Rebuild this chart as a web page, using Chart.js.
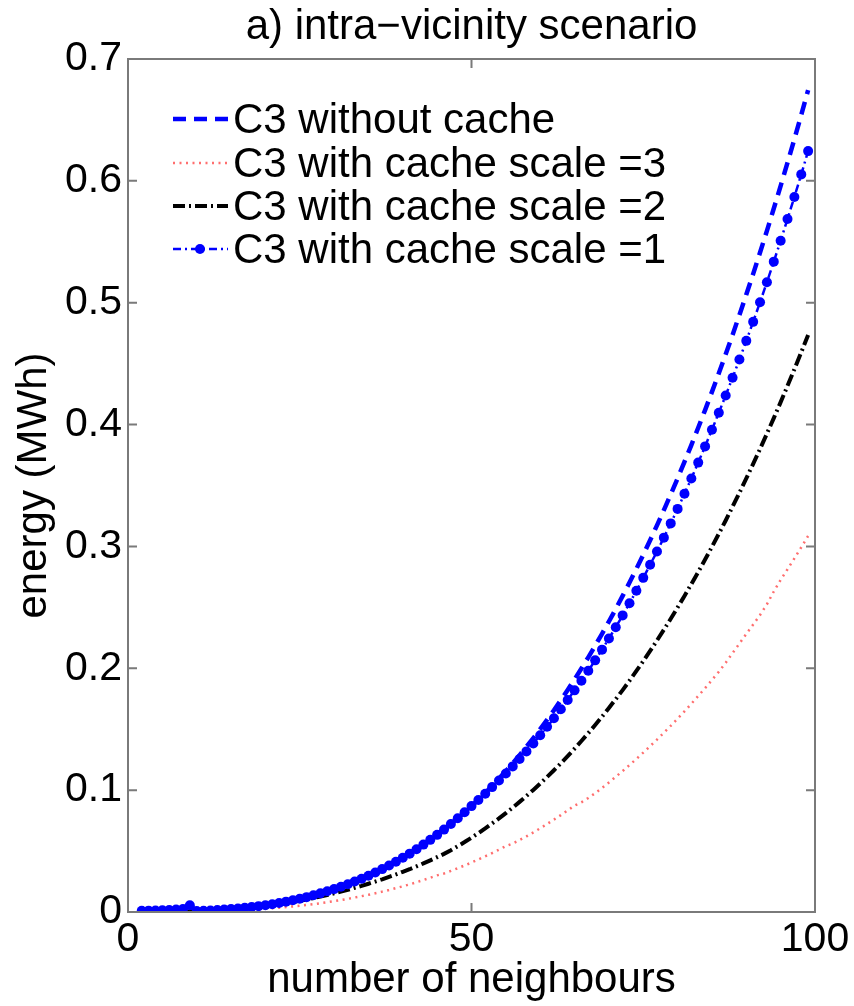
<!DOCTYPE html>
<html>
<head>
<meta charset="utf-8">
<script src="https://cdn.jsdelivr.net/npm/chart.js@4/dist/chart.umd.min.js"></script>
<style>
  body { margin: 0; background: #fff; }
  #wrap { width: 854px; height: 1006px; }
</style>
</head>
<body>
<div id="wrap"><canvas id="myChart" width="854" height="1006"></canvas></div>
<script>
var FONT = '"Liberation Sans", Arial, Helvetica, sans-serif';

var neighbours = [2,3,4,5,6,7,8,9,10,11,12,13,14,15,16,17,18,19,
	20,21,22,23,24,25,26,27,28,29,30,31,32,33,34,35,36,37,38,39,
	40,41,42,43,44,45,46,47,48,49,50,51,52,53,54,55,56,57,58,59,
	60,61,62,63,64,65,66,67,68,69,70,71,72,73,74,75,76,77,78,79,
	80,81,82,83,84,85,86,87,88,89,90,91,92,93,94,95,96,97,98,99];

var withoutCache = [0.0010,0.0011,0.0013,0.0015,0.0017,0.0020,0.0025,0.0055,0.0008,0.0010,0.0013,0.0016,0.0020,0.0024,0.0029,0.0034,0.0041,0.0048,
	0.0056,0.0064,0.0074,0.0085,0.0096,0.0109,0.0122,0.0137,0.0153,0.0170,
	0.0188,0.0207,0.0228,0.0250,0.0273,0.0298,0.0324,0.0352,0.0381,0.0412,
	0.0445,0.0479,0.0515,0.0553,0.0592,0.0633,0.0676,0.0722,0.0769,0.0818,
	0.0869,0.0922,0.0977,0.1035,0.1094,0.1156,0.1221,0.1287,0.1356,0.1427,
	0.1501,0.1578,0.1656,0.1738,0.1822,0.1909,0.1998,0.2090,0.2185,0.2283,
	0.2384,0.2487,0.2594,0.2704,0.2816,0.2932,0.3051,0.3173,0.3298,0.3427,
	0.3558,0.3694,0.3832,0.3974,0.4119,0.4268,0.4421,0.4577,0.4736,0.4900,
	0.5067,0.5237,0.5412,0.5590,0.5773,0.5959,0.6149,0.6343,0.6541,0.6744];

var cacheScale3 = [0.0000,0.0000,0.0000,0.0000,0.0001,0.0001,0.0002,0.0002,0.0003,0.0004,0.0006,0.0007,0.0009,0.0011,0.0014,0.0016,0.0019,0.0023,
	0.0026,0.0031,0.0035,0.0040,0.0046,0.0052,0.0058,0.0065,0.0072,0.0080,
	0.0089,0.0098,0.0108,0.0119,0.0130,0.0141,0.0154,0.0167,0.0181,0.0196,
	0.0211,0.0227,0.0244,0.0262,0.0281,0.0301,0.0316,0.0337,0.0359,0.0382,
	0.0406,0.0431,0.0457,0.0484,0.0512,0.0541,0.0562,0.0591,0.0621,0.0653,
	0.0687,0.0722,0.0758,0.0795,0.0834,0.0873,0.0900,0.0936,0.0975,0.1018,
	0.1063,0.1110,0.1157,0.1206,0.1256,0.1308,0.1361,0.1415,0.1471,0.1528,
	0.1587,0.1647,0.1709,0.1773,0.1837,0.1904,0.1972,0.2045,0.2125,0.2203,
	0.2282,0.2359,0.2437,0.2525,0.2630,0.2726,0.2813,0.2902,0.2993,0.3086];

var cacheScale2 = [0.0000,0.0000,0.0000,0.0001,0.0001,0.0002,0.0003,0.0004,0.0006,0.0008,0.0010,0.0013,0.0016,0.0020,0.0025,0.0029,0.0035,0.0041,
	0.0048,0.0055,0.0063,0.0072,0.0082,0.0092,0.0103,0.0114,0.0126,0.0139,
	0.0153,0.0167,0.0182,0.0198,0.0214,0.0232,0.0250,0.0268,0.0288,0.0308,
	0.0330,0.0351,0.0375,0.0399,0.0424,0.0450,0.0477,0.0507,0.0540,0.0574,
	0.0610,0.0647,0.0686,0.0727,0.0768,0.0812,0.0857,0.0904,0.0952,0.1002,
	0.1054,0.1108,0.1163,0.1220,0.1279,0.1340,0.1403,0.1468,0.1534,0.1603,
	0.1674,0.1747,0.1821,0.1898,0.1978,0.2059,0.2142,0.2228,0.2316,0.2406,
	0.2499,0.2593,0.2691,0.2790,0.2892,0.2997,0.3104,0.3213,0.3326,0.3440,
	0.3558,0.3677,0.3800,0.3925,0.4053,0.4184,0.4318,0.4454,0.4593,0.4735];

var cacheScale1 = [0.0010,0.0011,0.0013,0.0015,0.0017,0.0020,0.0025,0.0055,0.0008,0.0010,0.0013,0.0016,0.0020,0.0024,0.0029,0.0034,0.0041,0.0048,
	0.0056,0.0064,0.0074,0.0085,0.0096,0.0109,0.0122,0.0137,0.0153,0.0170,
	0.0188,0.0207,0.0228,0.0250,0.0273,0.0298,0.0324,0.0352,0.0381,0.0412,
	0.0445,0.0479,0.0515,0.0553,0.0592,0.0633,0.0676,0.0722,0.0769,0.0818,
	0.0869,0.0919,0.0971,0.1025,0.1079,0.1136,0.1195,0.1255,0.1318,0.1383,
	0.1451,0.1520,0.1590,0.1664,0.1740,0.1819,0.1898,0.1980,0.2065,0.2153,
	0.2244,0.2337,0.2434,0.2534,0.2636,0.2742,0.2849,0.2959,0.3072,0.3189,
	0.3308,0.3432,0.3558,0.3688,0.3821,0.3958,0.4097,0.4239,0.4384,0.4534,
	0.4687,0.4843,0.5004,0.5168,0.5337,0.5509,0.5687,0.5868,0.6053,0.6244];

var seriesLabels = ['C3 without cache', 'C3 with cache scale =3', 'C3 with cache scale =2', 'C3 with cache scale =1'];
var xTicks = [0, 50, 100];
var yTicks = [0, 0.1, 0.2, 0.3, 0.4, 0.5, 0.6, 0.7];

function toPoints(values) {
	return values.map(function(v, i) {
		return { x: neighbours[i], y: v };
	});
}

// matlab style box with inward ticks on all four sides
var boxPlugin = {
	id: 'matlabBox',
	afterDraw: function(chart) {
		var ctx = chart.ctx;
		var a = chart.chartArea;
		var len = 9;
		ctx.save();
		ctx.strokeStyle = '#7a7a7a';
		ctx.lineWidth = 2;
		ctx.strokeRect(a.left, a.top, a.right - a.left, a.bottom - a.top);
		ctx.beginPath();
		yTicks.forEach(function(v) {
			var py = chart.scales.y.getPixelForValue(v);
			ctx.moveTo(a.left, py); ctx.lineTo(a.left + len, py);
			ctx.moveTo(a.right, py); ctx.lineTo(a.right - len, py);
		});
		xTicks.forEach(function(v) {
			var px = chart.scales.x.getPixelForValue(v);
			ctx.moveTo(px, a.bottom); ctx.lineTo(px, a.bottom - len);
			ctx.moveTo(px, a.top); ctx.lineTo(px, a.top + len);
		});
		ctx.stroke();
		ctx.restore();
	}
};

var legendPlugin = {
	id: 'matlabLegend',
	afterDatasetsDraw: function(chart) {
		var ctx = chart.ctx;
		var rows = [119, 163, 206, 249];
		chart.data.datasets.forEach(function(ds, i) {
			var y = rows[i];
			ctx.save();
			ctx.strokeStyle = ds.borderColor;
			ctx.lineWidth = ds.borderWidth;
			ctx.setLineDash(ds.borderDash || []);
			ctx.beginPath();
			ctx.moveTo(173, y);
			ctx.lineTo(228, y);
			ctx.stroke();
			ctx.setLineDash([]);
			if (ds.pointRadius > 0) {
				ctx.fillStyle = ds.pointBackgroundColor;
				ctx.beginPath();
				ctx.arc(200, y, ds.pointRadius, 0, Math.PI * 2);
				ctx.fill();
			}
			ctx.fillStyle = '#000';
			ctx.font = '42px ' + FONT;
			ctx.textBaseline = 'middle';
			ctx.fillText(ds.label, 233, y + 2);
			ctx.restore();
		});
	}
};

var ctx = document.getElementById('myChart').getContext('2d');
var myChart = new Chart(ctx, {
	type: 'line',
	data: {
		datasets: [
			{
				label: seriesLabels[0],
				data: toPoints(withoutCache),
				borderColor: '#0000ff',
				borderWidth: 4.5,
				borderDash: [13, 8],
				pointRadius: 0,
				order: 3
			},
			{
				label: seriesLabels[1],
				data: toPoints(cacheScale3),
				borderColor: '#ff6e6e',
				borderWidth: 2.5,
				borderDash: [2, 4.5],
				pointRadius: 0,
				order: 2
			},
			{
				label: seriesLabels[2],
				data: toPoints(cacheScale2),
				borderColor: '#000000',
				borderWidth: 4,
				borderDash: [12, 4, 2, 4],
				pointRadius: 0,
				order: 1
			},
			{
				label: seriesLabels[3],
				data: toPoints(cacheScale1),
				borderColor: '#0000ff',
				borderWidth: 2.5,
				borderDash: [8, 4, 2, 4],
				pointRadius: 5,
				pointStyle: 'circle',
				pointBackgroundColor: '#0000ff',
				pointBorderWidth: 0,
				order: 0
			}
		]
	},
	options: {
		responsive: false,
		animation: false,
		events: [],
		layout: { padding: { left: 0, right: 39, top: 0, bottom: 0 } },
		plugins: {
			legend: { display: false },
			tooltip: { enabled: false },
			title: {
				display: true,
				text: 'a) intra\u2212vicinity scenario',
				color: '#000',
				fullSize: false,
				font: { size: 42, family: FONT, weight: 'normal' },
				padding: { top: 2, bottom: 6.6 }
			}
		},
		scales: {
			x: {
				type: 'linear',
				min: 0,
				max: 100,
				grid: { display: false, drawTicks: false },
				border: { display: false },
				afterBuildTicks: function(s) {
					s.ticks = xTicks.map(function(v) { return { value: v }; });
				},
				ticks: {
					color: '#000',
					padding: 3,
					maxRotation: 0,
					font: { size: 41, family: FONT },
					callback: function(v) { return String(v); }
				},
				title: {
					display: true,
					text: 'number of neighbours',
					color: '#000',
					font: { size: 42, family: FONT },
					padding: { top: 0, bottom: 0 }
				},
				afterFit: function(s) { s.height = 94; }
			},
			y: {
				type: 'linear',
				min: 0,
				max: 0.7,
				grid: { display: false, drawTicks: false },
				border: { display: false },
				afterBuildTicks: function(s) {
					s.ticks = yTicks.map(function(v) { return { value: v }; });
				},
				ticks: {
					color: '#000',
					padding: 6,
					font: { size: 41, family: FONT },
					callback: function(v) { return v === 0 ? '0' : v.toFixed(1); }
				},
				title: {
					display: true,
					text: 'energy (MWh)',
					color: '#000',
					font: { size: 42, family: FONT },
					padding: { top: 9, bottom: 0 }
				},
				afterFit: function(s) { s.width = 128; }
			}
		}
	},
	plugins: [boxPlugin, legendPlugin]
});
</script>
</body>
</html>
